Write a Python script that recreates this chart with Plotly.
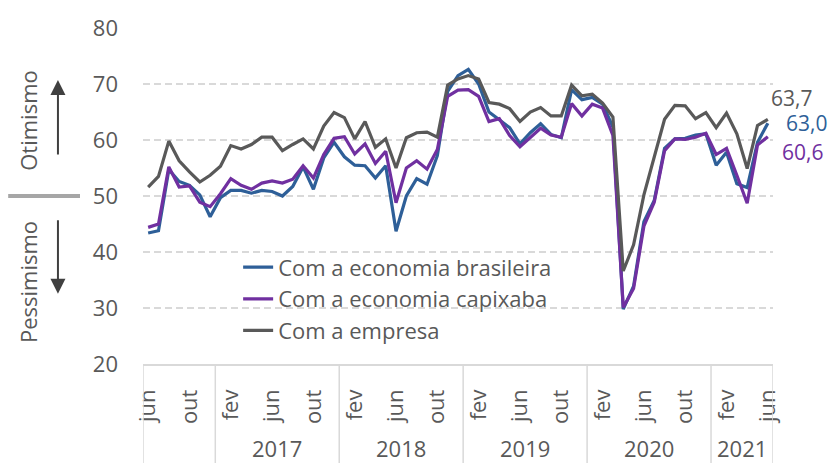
import plotly.graph_objects as go

# ---- data -------------------------------------------------------------
meses = ["jan", "fev", "mar", "abr", "mai", "jun", "jul", "ago", "set", "out", "nov", "dez"]
inicio_ano, inicio_mes = 2016, 6   # jun/2016
n_meses = 61                       # até jun/2021

economia_brasileira = [43.4, 43.8, 54.7, 52.6, 51.9, 50.2, 46.3, 49.7, 51.0, 51.0,
                       50.5, 51.0, 50.8, 50.0, 51.7, 55.2, 51.2, 56.8, 59.6, 57.0,
                       55.5, 55.4, 53.2, 55.4, 43.7, 50.0, 53.1, 52.1, 57.2, 68.7,
                       71.5, 72.6, 70.0, 65.0, 63.6, 62.2, 59.3, 61.3, 62.9, 61.0,
                       60.4, 69.0, 67.2, 67.6, 66.4, 62.3, 29.8, 33.9, 45.4, 49.2,
                       58.5, 60.2, 60.3, 60.9, 61.1, 55.5, 57.8, 52.2, 51.5, 59.6,
                       63.0]
economia_capixaba = [44.4, 45.0, 55.2, 51.6, 51.8, 48.9, 48.1, 50.4, 53.1, 51.9,
                     51.2, 52.3, 52.7, 52.3, 53.0, 55.4, 53.2, 57.4, 60.3, 60.6,
                     57.5, 59.3, 55.8, 58.0, 48.8, 55.0, 56.3, 54.8, 58.3, 67.8,
                     68.9, 69.0, 67.8, 63.3, 63.8, 60.8, 58.8, 60.4, 62.1, 60.9,
                     60.5, 66.5, 64.3, 66.4, 65.7, 60.8, 30.1, 33.5, 44.6, 48.9,
                     58.1, 60.2, 60.1, 60.5, 61.2, 57.4, 58.5, 53.7, 48.7, 59.1,
                     60.6]
empresa = [51.6, 53.5, 59.8, 56.3, 54.3, 52.5, 53.7, 55.3, 59.0, 58.4,
           59.2, 60.5, 60.5, 58.1, 59.2, 60.2, 58.4, 62.5, 64.9, 64.0,
           60.2, 63.3, 58.7, 60.2, 55.0, 60.4, 61.3, 61.4, 60.5, 69.8,
           70.9, 71.5, 70.9, 66.7, 66.4, 65.6, 63.3, 65.0, 65.8, 64.3,
           64.3, 69.8, 67.9, 68.2, 66.6, 64.1, 36.6, 41.3, 50.2, 56.7,
           63.7, 66.2, 66.1, 63.8, 64.9, 62.2, 64.8, 61.1, 54.9, 62.6,
           63.7]

series = [
    ("Com a economia brasileira", economia_brasileira, "#2E5F98"),
    ("Com a economia capixaba", economia_capixaba, "#7030A0"),
    ("Com a empresa", empresa, "#595959"),
]
anos_ocultos = [2016]
passo_rotulo = 4

# ---- categories ---------------------------------------------------------
periodos = []
for k in range(n_meses):
    m = (inicio_mes - 1 + k) % 12
    a = inicio_ano + (inicio_mes - 1 + k) // 12
    periodos.append((meses[m], a))
xs = list(range(n_meses))

TXT = "#595959"
FONT = "Open Sans, Noto Sans, sans-serif"
FS = 22

fig = go.Figure()
for nome, vals, cor in series:
    fig.add_trace(go.Scatter(x=xs, y=vals, mode="lines", name=nome,
                             line=dict(color=cor, width=3.2)))

# final value labels
offsets = {"Com a economia brasileira": (17, 0),
           "Com a economia capixaba": (13, -15),
           "Com a empresa": (2, 21)}
for nome, vals, cor in series:
    dx, dy = offsets[nome]
    fig.add_annotation(x=xs[-1], y=vals[-1], xref="x", yref="y",
                       text=f"{vals[-1]:.1f}".replace(".", ","),
                       showarrow=False, xanchor="left", yanchor="middle",
                       xshift=dx, yshift=dy, borderpad=0,
                       font=dict(size=21, color=cor, family=FONT))

# year group labels and separators
anos = sorted(set(a for _, a in periodos))
for a in anos:
    idx = [i for i, (_, aa) in enumerate(periodos) if aa == a]
    fig.add_shape(type="line", xref="x", yref="paper",
                  x0=idx[0] - 0.5, x1=idx[0] - 0.5, y0=0, y1=-0.3,
                  line=dict(color="#D9D9D9", width=1.5))
    if a not in anos_ocultos:
        fig.add_annotation(x=(idx[0] + idx[-1]) / 2, y=-0.25, xref="x", yref="paper",
                           text=str(a), showarrow=False, yanchor="middle",
                           borderpad=0,
                           font=dict(size=FS, color=TXT, family=FONT))
fig.add_shape(type="line", xref="x", yref="paper",
              x0=xs[-1] + 0.5, x1=xs[-1] + 0.5, y0=0, y1=-0.3,
              line=dict(color="#D9D9D9", width=1.5))

# Otimismo / Pessimismo side decoration
fig.add_annotation(x=-0.1825, y=0.724, xref="paper", yref="paper", text="Otimismo",
                   textangle=-90, showarrow=False, xanchor="center", yanchor="middle",
                   font=dict(size=FS, color=TXT, family=FONT))
fig.add_annotation(x=-0.1825, y=0.244, xref="paper", yref="paper", text="Pessimismo",
                   textangle=-90, showarrow=False, xanchor="center", yanchor="middle",
                   font=dict(size=FS, color=TXT, family=FONT))
fig.add_annotation(x=-0.135, y=0.845, xref="paper", yref="paper", text="",
                   showarrow=True, ax=0, ay=76, arrowhead=2, arrowsize=1.5,
                   arrowwidth=2, arrowcolor="#404040")
fig.add_annotation(x=-0.135, y=0.209, xref="paper", yref="paper", text="",
                   showarrow=True, ax=0, ay=-75, arrowhead=2, arrowsize=1.5,
                   arrowwidth=2, arrowcolor="#404040")
fig.add_shape(type="line", xref="paper", yref="y", x0=-0.214, x1=-0.1, y0=50, y1=50,
              line=dict(color="#A6A6A6", width=4))

fig.update_layout(
    width=831, height=463,
    margin=dict(l=143, r=58, t=24, b=99),
    paper_bgcolor="white", plot_bgcolor="white",
    font=dict(family=FONT, size=FS, color=TXT),
    showlegend=True,
    legend=dict(x=0.151, y=0.35, xanchor="left", yanchor="top",
                bgcolor="rgba(0,0,0,0)", font=dict(size=FS, color=TXT),
                tracegroupgap=0),
    xaxis=dict(range=[-0.5, n_meses - 0.5],
               tickvals=xs[::passo_rotulo],
               ticktext=[m for m, _ in periodos][::passo_rotulo],
               tickangle=-90, ticks="", showgrid=False, zeroline=False,
               showline=True, linecolor="#D9D9D9", linewidth=1.5,
               tickfont=dict(size=FS, color=TXT), ticklabelstandoff=15),
    yaxis=dict(range=[20, 80], tickvals=[20, 30, 40, 50, 60, 70, 80],
               showgrid=True, gridcolor="#D9D9D9", gridwidth=1.5, griddash="7px,4px",
               zeroline=False, showline=False, ticks="",
               tickfont=dict(size=FS, color=TXT), ticklabelstandoff=24),
)

fig.write_html("out.html")
